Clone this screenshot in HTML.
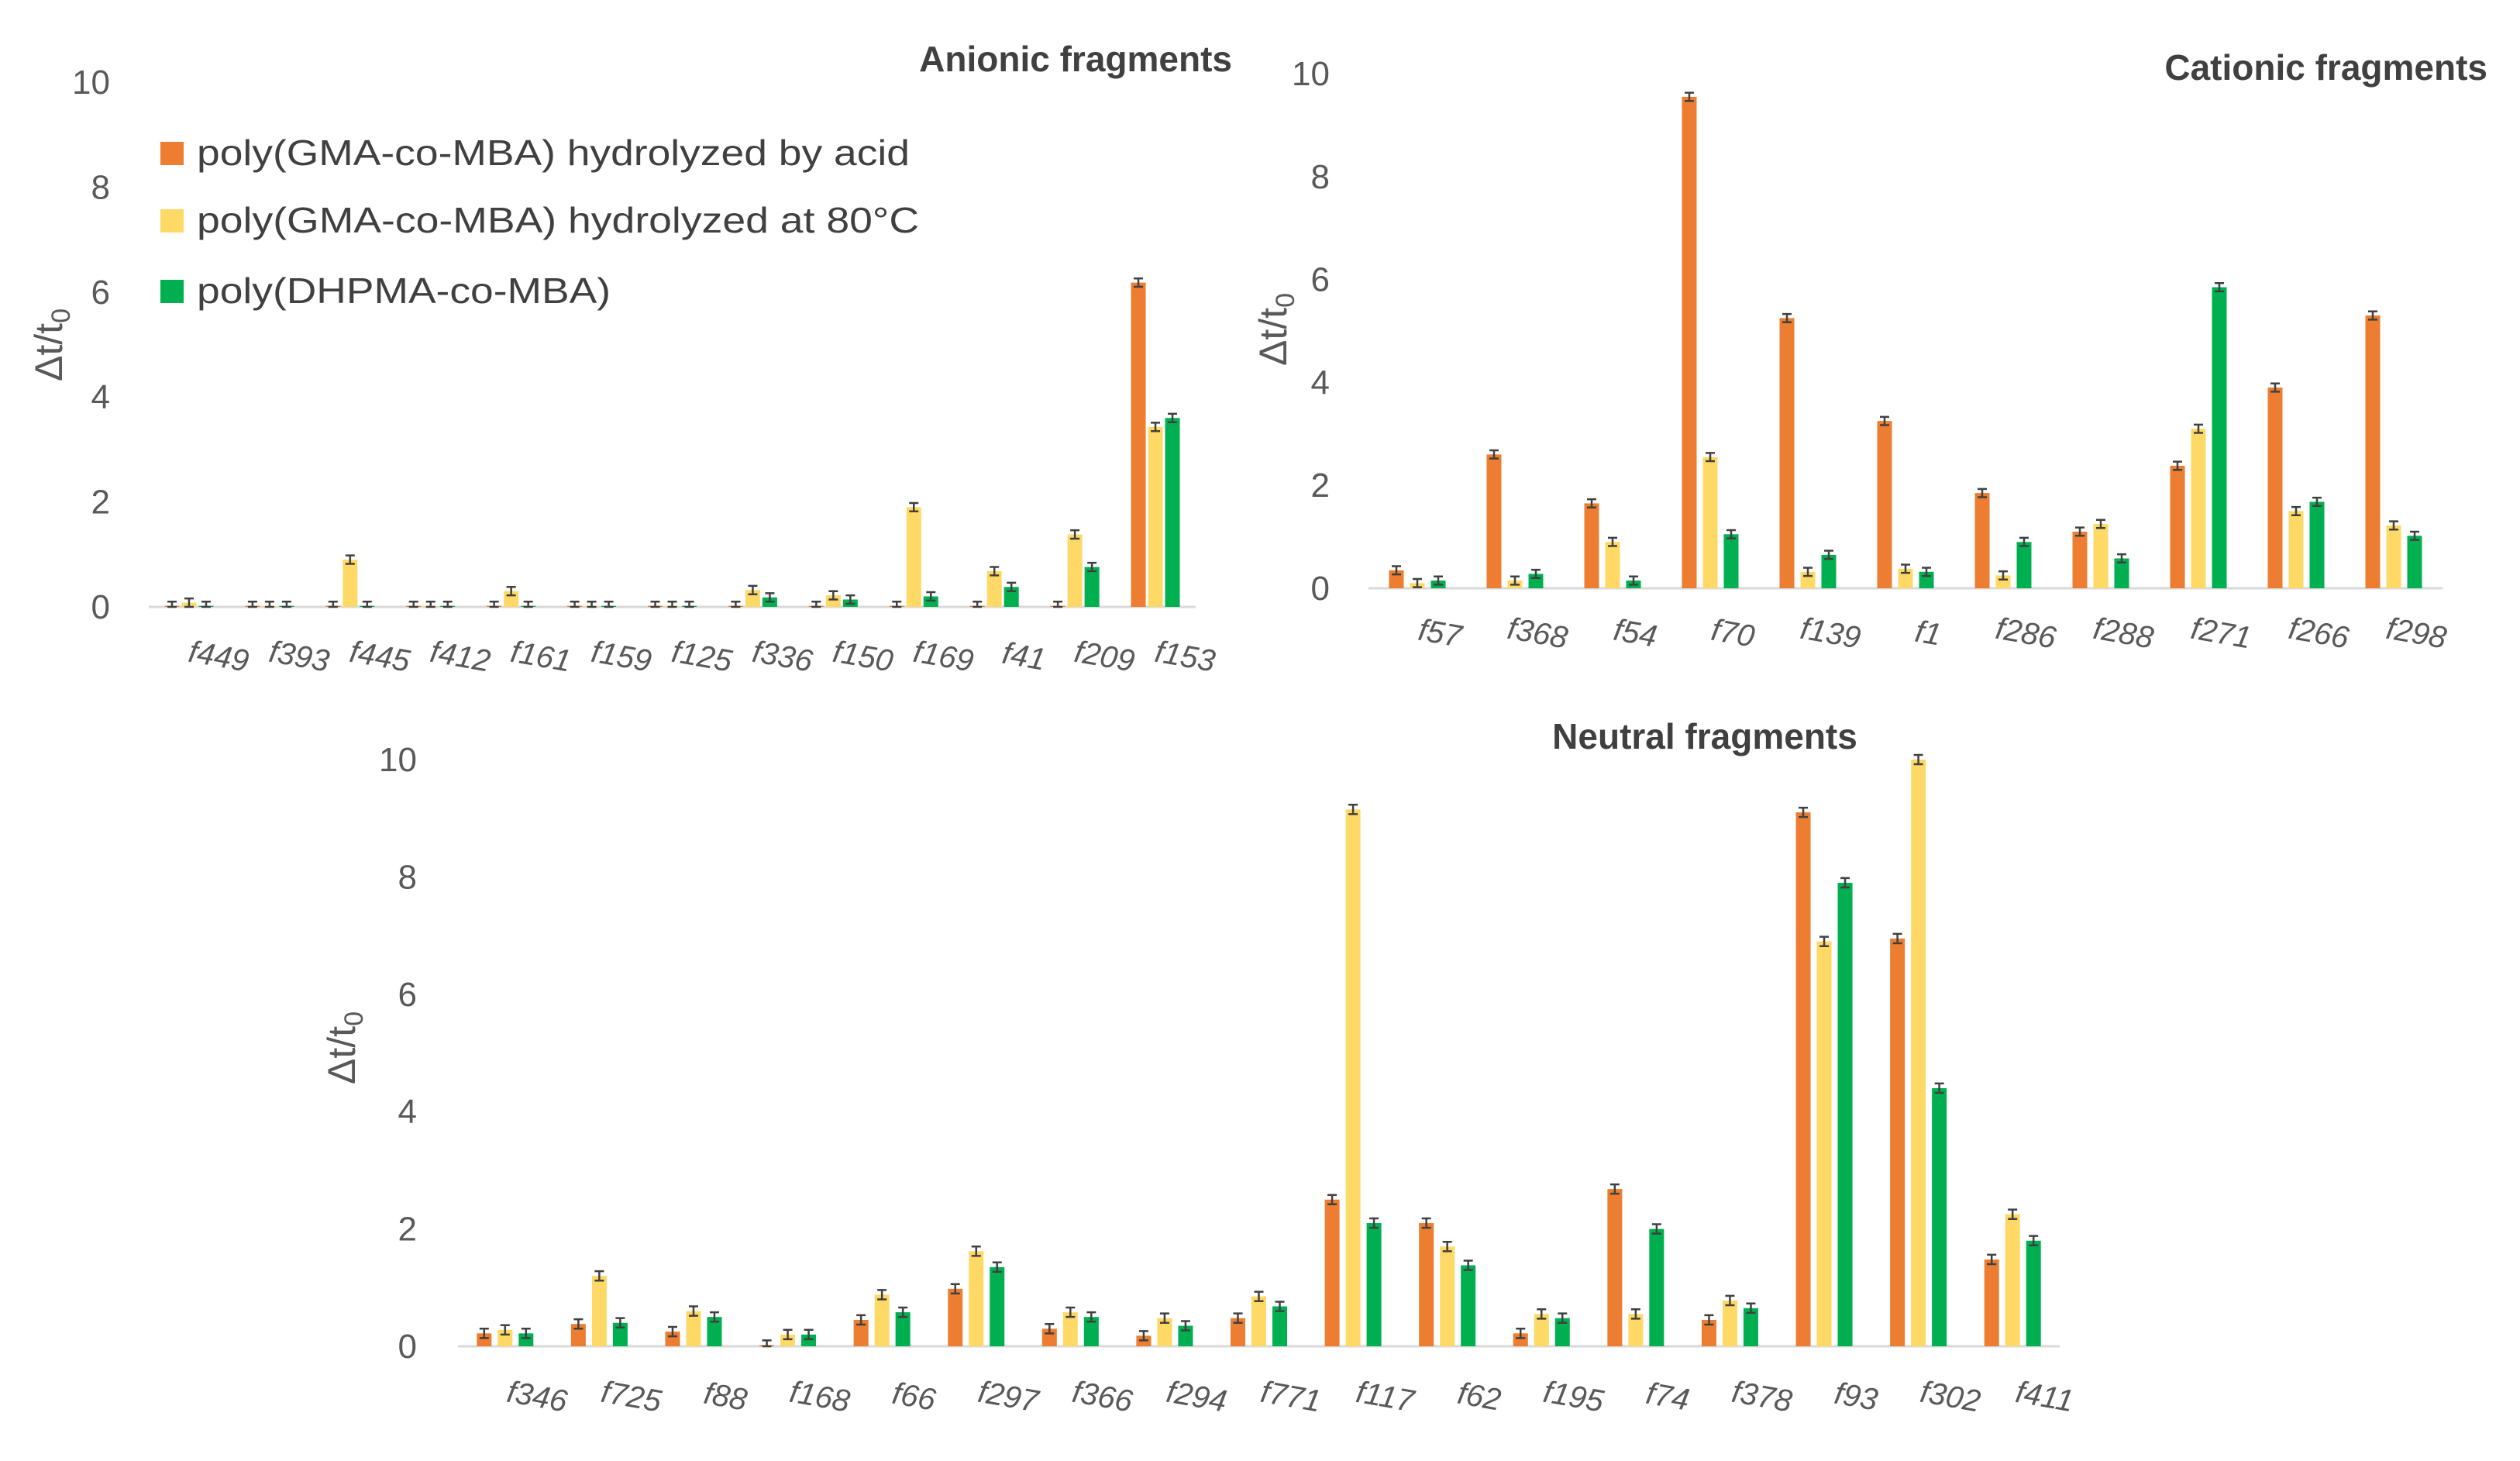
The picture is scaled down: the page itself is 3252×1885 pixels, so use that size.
<!DOCTYPE html>
<html><head><meta charset="utf-8"><style>
html,body{margin:0;padding:0;background:#fff;}
svg{display:block;font-family:"Liberation Sans",sans-serif;}
</style></head><body>
<svg id="svg" width="3252" height="1885" viewBox="0 0 3252 1885" xmlns="http://www.w3.org/2000/svg">
<rect width="3252" height="1885" fill="#fff"/>
<g id="legend">
  <g><rect x="207" y="183" width="30" height="30" fill="#ED7D31"/><text x="254" y="213" font-size="46" fill="#404040" textLength="920" lengthAdjust="spacingAndGlyphs">poly(GMA-co-MBA) hydrolyzed by acid</text></g>
  <g><rect x="207" y="270" width="30" height="30" fill="#FFD966"/><text x="254" y="300" font-size="46" fill="#404040" textLength="932" lengthAdjust="spacingAndGlyphs">poly(GMA-co-MBA) hydrolyzed at 80°C</text></g>
  <g><rect x="207" y="361" width="30" height="30" fill="#00B050"/><text x="254" y="391" font-size="46" fill="#404040" textLength="534" lengthAdjust="spacingAndGlyphs">poly(DHPMA-co-MBA)</text></g>
</g>
</svg>
<script>
const anionCats=["f449","f393","f445","f412","f161","f159","f125","f336","f150","f169","f41","f209","f153"];
const anionAcid=[0.02,0.02,0.02,0.02,0.02,0.02,0.02,0.02,0.02,0.02,0.02,0.02,6.18];
const anion80=[0.08,0.02,0.9,0.02,0.3,0.02,0.02,0.32,0.22,1.9,0.68,1.38,3.43];
const anionDh=[0.02,0.02,0.02,0.02,0.02,0.02,0.02,0.18,0.14,0.2,0.38,0.76,3.6];
const cationCats=["f57","f368","f54","f70","f139","f1","f286","f288","f271","f266","f298"];
const cationAcid=[0.35,2.6,1.65,9.55,5.25,3.25,1.85,1.1,2.38,3.9,5.3];
const cation80=[0.1,0.15,0.9,2.55,0.32,0.38,0.25,1.25,3.1,1.5,1.22];
const cationDh=[0.15,0.28,0.15,1.05,0.65,0.32,0.9,0.58,5.85,1.68,1.02];
const neutCats=["f346","f725","f88","f168","f66","f297","f366","f294","f771","f117","f62","f195","f74","f378","f93","f302","f411"];
const neutAcid=[0.22,0.38,0.25,0.02,0.45,0.98,0.3,0.18,0.48,2.5,2.1,0.22,2.68,0.45,9.1,6.95,1.48];
const neut80=[0.28,1.2,0.6,0.2,0.88,1.62,0.58,0.48,0.85,9.15,1.7,0.55,0.55,0.78,6.9,10.0,2.25];
const neutDh=[0.22,0.4,0.5,0.2,0.58,1.35,0.5,0.35,0.68,2.1,1.38,0.48,2.0,0.65,7.9,4.4,1.8];
const yTicks=[0,2,4,6,8,10];
const errSize=0.08;

const NS="http://www.w3.org/2000/svg";
const svg=document.getElementById('svg');
function mk(tag,attrs,parent){const e=document.createElementNS(NS,tag);for(const k in attrs)e.setAttribute(k,attrs[k]);(parent||svg).appendChild(e);return e;}
const colors=["#ED7D31","#FFD966","#00B050"];
const snames=["acid","80c","dhpma"];

function chart(cfg){
  const g=mk('g',{});
  
  
  const y=v=>cfg.y0-(v/10)*(cfg.y0-cfg.y10);
  const step=(cfg.x1-cfg.x0)/cfg.cats.length;
  const cx=i=>cfg.x0+step*(i+0.5);
  yTicks.forEach(t=>{
    const tx=mk('text',{x:cfg.tickX,y:y(t)+15,'font-size':44,fill:'#595959','text-anchor':'end'},g);
    tx.textContent=t;
    
    
  });
  const ax=mk('line',{x1:cfg.x0,x2:cfg.x1,y1:cfg.y0,y2:cfg.y0,stroke:'#d9d9d9','stroke-width':3},g);
  
  
  cfg.series.forEach((vals,s)=>{
    vals.forEach((v,i)=>{
      const bx=cx(i)+(s-1)*cfg.sp-cfg.bw/2;
      const r=mk('rect',{x:bx,y:y(v),width:cfg.bw,height:cfg.y0-y(v),fill:colors[s]},g);
      
      
      const mx=bx+cfg.bw/2, yt=y(v+errSize), yb=y(Math.max(0,v-errSize));
      const eb=mk('path',{d:`M${mx-6},${yt}H${mx+6}M${mx},${yt}V${yb}M${mx-6},${yb}H${mx+6}`,stroke:'#404040','stroke-width':2.5,fill:'none'},g);
      
      
    });
  });
  cfg.cats.forEach((c,i)=>{
    const lx=cx(i)+cfg.lblOff, ly=cfg.lblY;
    const t=mk('text',{x:lx,y:ly,'font-size':40,'font-style':'italic',fill:'#595959','text-anchor':'middle',transform:`rotate(10 ${lx} ${ly})`},g);
    t.textContent=c;
    
    
  });
  const yt=mk('text',{x:0,y:0,'font-size':50,fill:'#595959','text-anchor':'middle',transform:`translate(${cfg.ytX} ${cfg.ytY}) rotate(-90)`},g);
  yt.innerHTML='Δt/t<tspan font-size="34" dy="10">0</tspan>';
  
  
  const ti=mk('text',{x:cfg.titleX,y:cfg.titleY,'font-size':46,'font-weight':'bold',fill:'#404040','text-anchor':cfg.titleAnchor},g);
  ti.textContent=cfg.title;
  
  
}
chart({name:'anionic-chart',cats:anionCats,series:[anionAcid,anion80,anionDh],x0:192,x1:1543,y0:783,y10:106,bw:19,sp:22,tickX:142,lblOff:36,lblY:860,ytX:80,ytY:445,title:'Anionic fragments',titleX:1590,titleY:92,titleAnchor:'end'});
chart({name:'cationic-chart',cats:cationCats,series:[cationAcid,cation80,cationDh],x0:1766,x1:3152,y0:759,y10:95,bw:19,sp:27,tickX:1716,lblOff:27,lblY:830,ytX:1660,ytY:425,title:'Cationic fragments',titleX:3210,titleY:103,titleAnchor:'end'});
chart({name:'neutral-chart',cats:neutCats,series:[neutAcid,neut80,neutDh],x0:591,x1:2658,y0:1737,y10:980,bw:19,sp:27,tickX:538,lblOff:39,lblY:1815,ytX:458,ytY:1352,title:'Neutral fragments',titleX:2200,titleY:966,titleAnchor:'middle'});
</script>
</body></html>
